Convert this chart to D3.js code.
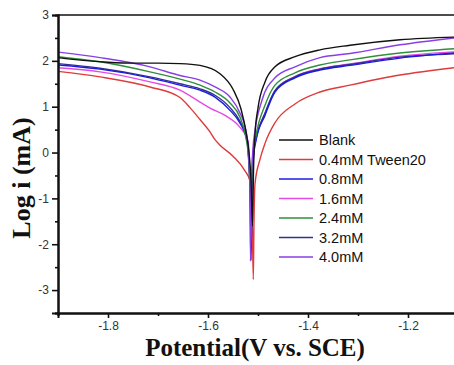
<!DOCTYPE html>
<html><head><meta charset="utf-8">
<script src="https://cdn.jsdelivr.net/npm/d3@7"></script>
<style>body{margin:0;background:#fff}svg{display:block}</style>
</head><body><svg id="c" width="454" height="365"></svg>
<script>
const seriesNames = ["Blank","0.4mM Tween20","0.8mM","1.6mM","2.4mM","3.2mM","4.0mM"];
const seriesColors = ["#111111","#de3b3b","#1c1ce0","#e64ae6","#2f8f3a","#33338c","#8a3ee6"];
const blank = [[-1.9,2.07],[-1.85,2.01],[-1.8,1.97],[-1.75,1.95],[-1.7,1.95],[-1.656,1.94],[-1.616,1.9],[-1.576,1.72],[-1.55,1.38],[-1.534,0.95],[-1.524,0.45],[-1.518,0.0],[-1.514,-0.6],[-1.511,-1.6],[-1.509,-0.4],[-1.506,0.4],[-1.5,0.97],[-1.486,1.54],[-1.466,1.87],[-1.426,2.09],[-1.376,2.24],[-1.316,2.34],[-1.216,2.46],[-1.1,2.52]];
const tween04 = [[-1.9,1.77],[-1.816,1.65],[-1.716,1.43],[-1.656,1.2],[-1.636,0.98],[-1.616,0.72],[-1.596,0.45],[-1.586,0.28],[-1.576,0.16],[-1.55,-0.08],[-1.526,-0.4],[-1.516,-0.62],[-1.512,-1.2],[-1.5094,-2.77],[-1.508,-1.5],[-1.506,-0.68],[-1.496,-0.15],[-1.486,0.2],[-1.466,0.65],[-1.426,1.06],[-1.376,1.32],[-1.316,1.47],[-1.216,1.69],[-1.1,1.86]];
const mM08 = [[-1.9,1.91],[-1.816,1.82],[-1.716,1.63],[-1.656,1.47],[-1.616,1.36],[-1.586,1.21],[-1.556,0.92],[-1.536,0.64],[-1.522,0.26],[-1.518,-0.3],[-1.515,-1.2],[-1.514,-2.35],[-1.512,-0.8],[-1.509,-0.1],[-1.504,0.26],[-1.486,0.81],[-1.466,1.32],[-1.426,1.63],[-1.376,1.8],[-1.316,1.9],[-1.216,2.06],[-1.1,2.18]];
const mM16 = [[-1.9,1.85],[-1.816,1.76],[-1.716,1.54],[-1.656,1.36],[-1.616,1.1],[-1.596,0.97],[-1.566,0.81],[-1.536,0.55],[-1.52,0.26],[-1.517,-0.3],[-1.5155,-1.2],[-1.5145,-2.3],[-1.513,-0.9],[-1.51,0.0],[-1.505,0.3],[-1.486,0.85],[-1.466,1.35],[-1.426,1.66],[-1.376,1.83],[-1.316,1.93],[-1.216,2.1],[-1.1,2.2]];
const mM24 = [[-1.9,2.09],[-1.816,1.98],[-1.716,1.76],[-1.656,1.6],[-1.616,1.47],[-1.586,1.32],[-1.556,1.08],[-1.536,0.77],[-1.526,0.42],[-1.519,-0.1],[-1.516,-0.8],[-1.514,-1.9],[-1.512,-0.6],[-1.509,0.0],[-1.504,0.37],[-1.486,1.03],[-1.466,1.47],[-1.426,1.74],[-1.376,1.91],[-1.316,2.02],[-1.216,2.17],[-1.1,2.27]];
const mM32 = [[-1.9,1.94],[-1.816,1.84],[-1.716,1.65],[-1.656,1.5],[-1.616,1.39],[-1.586,1.25],[-1.556,0.98],[-1.536,0.68],[-1.522,0.3],[-1.518,-0.2],[-1.515,-1.0],[-1.5135,-2.1],[-1.512,-0.7],[-1.509,0.0],[-1.504,0.3],[-1.486,0.86],[-1.466,1.35],[-1.426,1.65],[-1.376,1.82],[-1.316,1.92],[-1.216,2.08],[-1.1,2.16]];
const mM40 = [[-1.9,2.19],[-1.816,2.07],[-1.716,1.87],[-1.656,1.68],[-1.616,1.58],[-1.586,1.43],[-1.556,1.21],[-1.536,0.86],[-1.524,0.48],[-1.519,0.0],[-1.516,-0.8],[-1.515,-2.37],[-1.513,-0.6],[-1.51,0.1],[-1.506,0.48],[-1.492,1.14],[-1.466,1.63],[-1.426,1.87],[-1.376,2.07],[-1.316,2.16],[-1.216,2.35],[-1.1,2.51]];
const seriesData = [blank,tween04,mM08,mM16,mM24,mM32,mM40];
const xTicks = [-1.8,-1.6,-1.4,-1.2];
const xMinor = [-1.9,-1.7,-1.5,-1.3,-1.1];
const yTicks = [-3,-2,-1,0,1,2,3];
const yMinor = [-3.5,-2.5,-1.5,-0.5,0.5,1.5,2.5];

const svg = d3.select("#c");
const L=58,R=458,T=15,B=313;
const x = d3.scaleLinear().domain([-1.9,-1.1]).range([L,R]);
const y = d3.scaleLinear().domain([-3.5,3]).range([B,T]);

svg.append("clipPath").attr("id","clip").append("rect").attr("x",L).attr("y",T).attr("width",R-L).attr("height",B-T);

const line = d3.line().x(d=>x(d[0])).y(d=>y(d[1])).curve(d3.curveMonotoneX);
const g = svg.append("g").attr("clip-path","url(#clip)");
const order=[1,3,5,2,4,6,0];
order.forEach(i=>{
  g.append("path").datum(seriesData[i]).attr("d",line).attr("fill","none")
   .attr("stroke",seriesColors[i]).attr("stroke-width",1.4).attr("stroke-linejoin","round");
});

// frame
svg.append("line").attr("x1",L).attr("x2",R).attr("y1",T).attr("y2",T).attr("stroke","#111").attr("stroke-width",1.6);
svg.append("line").attr("x1",R).attr("x2",R).attr("y1",T).attr("y2",B).attr("stroke","#111").attr("stroke-width",1.6);

// axes
const xAxis = svg.append("g").attr("transform",`translate(0,${B})`)
  .call(d3.axisBottom(x).tickValues(xTicks).tickFormat(d3.format(".1f")).tickSize(5).tickPadding(3));
const xMin = svg.append("g").attr("transform",`translate(0,${B})`)
  .call(d3.axisBottom(x).tickValues(xMinor).tickFormat("").tickSize(3));
const yAxis = svg.append("g").attr("transform",`translate(${L},0)`)
  .call(d3.axisLeft(y).tickValues(yTicks).tickFormat(d3.format("d")).tickSize(6).tickPadding(3));
const yMin = svg.append("g").attr("transform",`translate(${L},0)`)
  .call(d3.axisLeft(y).tickValues(yMinor).tickFormat("").tickSize(3));
xMin.selectAll("text").remove();
yMin.selectAll("text").remove();
[xAxis,xMin,yAxis,yMin].forEach(a=>{
  a.select(".domain").attr("stroke","#111").attr("stroke-width",2);
  a.selectAll(".tick line").attr("stroke","#111").attr("stroke-width",1.6);
  a.selectAll("text").attr("font-family","Arial, 'Liberation Sans', sans-serif").attr("font-size",12).attr("fill","#333");
});
xAxis.selectAll("text").text(d=>d3.format(".1f")(d).replace("−","-"));
yAxis.selectAll("text").text(d=>String(d));

// titles
svg.append("text").attr("x",255).attr("y",356).attr("text-anchor","middle")
  .attr("font-family","'Liberation Serif','Times New Roman',serif").attr("font-weight","bold").attr("font-size",25)
  .attr("fill","#111").text("Potential(V vs. SCE)");
svg.append("text").attr("transform","translate(30,178) rotate(-90)").attr("text-anchor","middle")
  .attr("font-family","'Liberation Serif','Times New Roman',serif").attr("font-weight","bold").attr("font-size",26)
  .attr("fill","#111").text("Log i (mA)");

// legend
const lg = svg.append("g");
seriesNames.forEach((n,i)=>{
  const yy = 140 + i*19.5;
  lg.append("line").attr("x1",279).attr("x2",313).attr("y1",yy).attr("y2",yy).attr("stroke",seriesColors[i]).attr("stroke-width",1.6);
  lg.append("text").attr("x",319).attr("y",yy+5).attr("font-family","Arial, 'Liberation Sans', sans-serif")
    .attr("font-size",14.5).attr("fill","#111").text(n);
});
</script></body></html>
